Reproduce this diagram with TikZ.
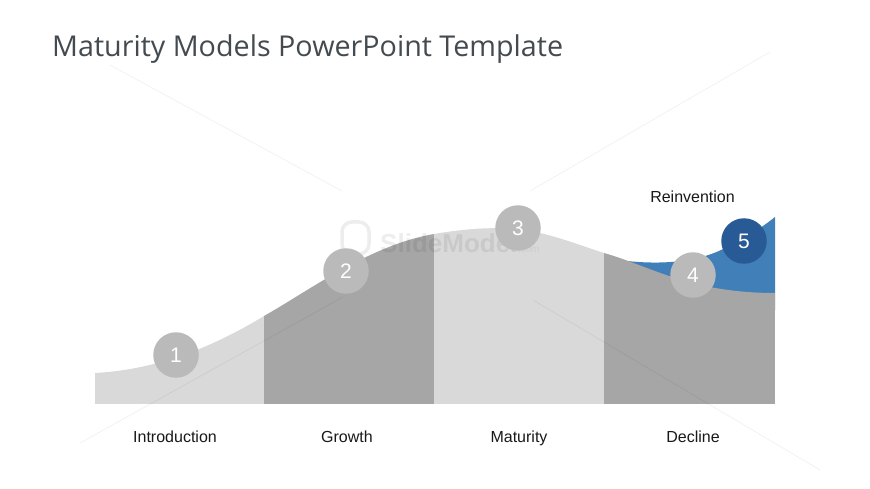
\documentclass[tikz,border=0pt]{standalone}
\usepackage{fontspec}
\setmainfont{Liberation Sans}
\newfontfamily\titlefont{Open Sans}
\definecolor{lightband}{HTML}{D9D9D9}
\definecolor{darkband}{HTML}{A6A6A6}
\definecolor{circgray}{HTML}{BABABA}
\definecolor{wave}{HTML}{417FB8}
\definecolor{navy}{HTML}{285A96}
\definecolor{titlegray}{HTML}{444B50}
\tikzset{
  stage/.style={circle,minimum size=45.5pt,inner sep=0pt,fill=circgray,text=white,font=\fontsize{21}{21}\selectfont},
  caption/.style={inner sep=0pt,anchor=base,text=black!90,font=\fontsize{16}{16}\selectfont},
  ghost/.style={draw=black,opacity=0.05,line width=0.8pt}
}
\begin{document}
\begin{tikzpicture}[x=1pt,y=-1pt]
\useasboundingbox (0,0) rectangle (870,489);
\fill[white] (0,0) rectangle (870,489);
% blue reinvention wave
\fill[wave] (627,261) .. controls (655,264) and (695,264) .. (725,248)
  .. controls (745,238) and (760,229) .. (775,217)
  -- (775,310) -- (627,310) -- cycle;
% bands
\begin{scope}
\clip (95,373) .. controls (150,370) and (205,352) .. (264,316)
  .. controls (310,290) and (370,245) .. (434,234)
  .. controls (460,229.5) and (505,224) .. (540,233)
  .. controls (565,239) and (585,247) .. (604,253)
  .. controls (650,266) and (690,293) .. (775,293)
  -- (775,404) -- (95,404) -- cycle;
\fill[lightband] (95,200) rectangle (264,404);
\fill[darkband] (264,200) rectangle (434,404);
\fill[lightband] (434,200) rectangle (604,404);
\fill[darkband] (604,200) rectangle (775,404);
\end{scope}
% faint watermark
\coordinate (g1) at (110,65); \coordinate (g2) at (342,191);
\coordinate (g3) at (530,191); \coordinate (g4) at (770,52);
\coordinate (g5) at (80,443); \coordinate (g6) at (343,297);
\coordinate (g7) at (533,300); \coordinate (g8) at (820,470);
\draw[ghost] (g1) -- (g2);
\draw[ghost] (g3) -- (g4);
\draw[ghost] (g5) -- (g6);
\draw[ghost] (g7) -- (g8);
\node[text=black,text opacity=0.07,font=\bfseries\fontsize{26}{26}\selectfont,inner sep=0pt,anchor=west] (mark) at (380,243) {SlideModel};
\node[text=black,text opacity=0.06,font=\fontsize{10}{10}\selectfont,inner sep=0pt,anchor=base west] (markb) at (mark.base east) {.com};
\draw[draw=black,opacity=0.07,line width=3.5pt,rounded corners=10pt] (342,222) rectangle (369,254);
% circles
\node[stage] (n1) at (176,355) {1};
\node[stage] (n2) at (346,271) {2};
\node[stage] (n3) at (518,228) {3};
\node[stage] (n4) at (693,275) {4};
\node[stage,fill=navy] (n5) at (744,241) {5};
% labels
\node[caption] (c1) at (175,442) {Introduction};
\node[caption] (c2) at (347,442) {Growth};
\node[caption] (c3) at (519,442) {Maturity};
\node[caption] (c4) at (693,442) {Decline};
\node[caption] (c5) at (692.5,203) {Reinvention};
\node[inner sep=0pt,anchor=west,text=titlegray,font=\titlefont\fontsize{28.7}{28.7}\selectfont] (title) at (52,49) {Maturity Models PowerPoint Template};
\end{tikzpicture}
\end{document}
